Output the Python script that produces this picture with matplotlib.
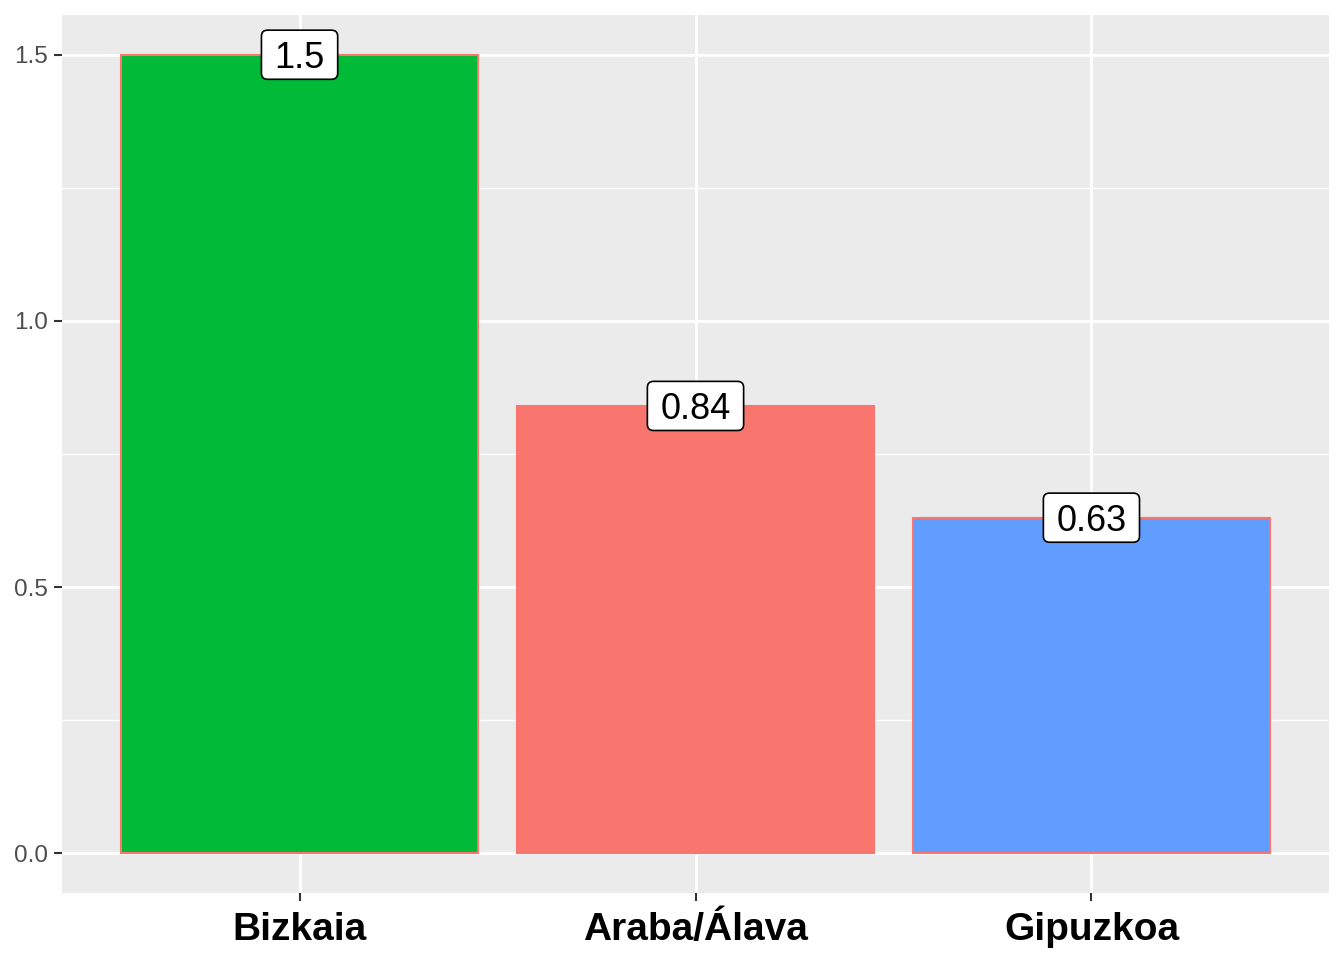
import matplotlib.pyplot as plt
from matplotlib.patches import BoxStyle
from matplotlib.ticker import MultipleLocator

plt.rcParams["font.family"] = ["Liberation Sans", "DejaVu Sans"]

# Data
regions = ["Bizkaia", "Araba/Álava", "Gipuzkoa"]
values = [1.5, 0.84, 0.63]
labels = ["1.5", "0.84", "0.63"]
colors = ["#00BA38", "#F8766D", "#619CFF"]

LABEL_SIZE = 26


def label_box(x0, y0, width, height, mutation_size):
    # ggplot-ish label box: digits centred, wider horizontal padding
    em = mutation_size
    cy = y0 + height / 2 + 0.1 * em
    px, py = 0.36 * em, 0.68 * em
    return BoxStyle.Round(pad=0, rounding_size=0.17)(
        x0 - px, cy - py, width + 2 * px, 2 * py, mutation_size)


fig = plt.figure(figsize=(13.44, 9.6), dpi=100)
ax = fig.add_axes([62 / 1344, 67 / 960, 1267 / 1344, 878 / 960])
ax.set_facecolor("#EBEBEB")

x = list(range(1, len(regions) + 1))
ax.bar(x, values, width=0.9, color=colors, edgecolor="#F8766D", linewidth=1.5, zorder=2)

for xi, v, lab in zip(x, values, labels):
    ax.annotate(lab, (xi, v), xytext=(0, -0.358 * LABEL_SIZE), textcoords="offset points",
                ha="center", va="baseline", fontsize=LABEL_SIZE, zorder=3,
                bbox=dict(boxstyle=label_box, fc="white", ec="black", lw=1.2))

ax.set_xlim(0.4, 3.6)
ax.set_ylim(-0.075, 1.575)
ax.set_xticks(x)
ax.set_xticklabels(regions, fontsize=28, fontweight="bold", color="black")
ax.set_yticks([0.0, 0.5, 1.0, 1.5])
ax.set_yticklabels(["0.0", "0.5", "1.0", "1.5"], fontsize=17.5, color="#4D4D4D")
ax.yaxis.set_minor_locator(MultipleLocator(0.25))

ax.grid(True, which="major", color="white", linewidth=2, zorder=0)
ax.grid(True, which="minor", axis="y", color="white", linewidth=1, zorder=0)
ax.set_axisbelow(True)
ax.tick_params(which="major", length=6, width=1.5, color="#333333", pad=4)
ax.tick_params(axis="x", which="major", pad=8)
ax.tick_params(which="minor", length=0)
for s in ax.spines.values():
    s.set_visible(False)

fig.savefig("out.png", dpi=100, facecolor="white")
